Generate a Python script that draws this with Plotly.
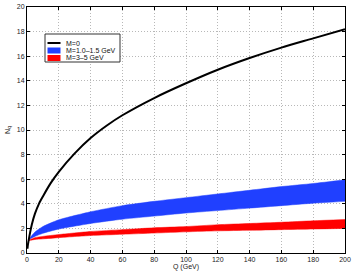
import plotly.graph_objects as go

# Data
q_black = [0.3, 0.6, 1, 2, 3, 5, 7.5, 10, 15, 20, 30, 40, 50, 60, 80, 100, 120, 140, 160, 180, 200]
n_black = [0.35, 0.7, 1.0, 1.7, 2.3, 3.2, 4.0, 4.6, 5.7, 6.6, 8.1, 9.35, 10.35, 11.2, 12.6, 13.8, 14.9, 15.85, 16.7, 17.45, 18.2]

q_band = [1, 2, 5, 10, 20, 40, 60, 80, 100, 120, 140, 160, 180, 200]
blue_hi = [1.0, 1.25, 1.7, 2.15, 2.7, 3.35, 3.85, 4.2, 4.5, 4.8, 5.1, 5.4, 5.65, 5.95]
blue_lo = [1.0, 1.15, 1.35, 1.6, 1.95, 2.4, 2.75, 3.0, 3.25, 3.45, 3.65, 3.85, 4.05, 4.2]
red_hi = [1.0, 1.1, 1.25, 1.35, 1.5, 1.75, 1.9, 2.05, 2.15, 2.3, 2.4, 2.5, 2.62, 2.72]
red_lo = [1.0, 1.03, 1.1, 1.15, 1.25, 1.42, 1.52, 1.62, 1.72, 1.8, 1.85, 1.9, 1.95, 2.0]

names = ["M=0", "M=1.0\u20131.5 GeV", "M=3\u20135 GeV"]
colors = ["black", "#2040ff", "#ff0000"]

W, H = 354, 273
L, R, T, B = 27, 9, 7, 20
PW, PH = W - L - R, H - T - B


def px_x(px):
    return (px - L) / PW


def px_y(py):
    return (H - B - py) / PH


fig = go.Figure()
for lo, hi, c, nm in [(blue_lo, blue_hi, colors[1], names[1]), (red_lo, red_hi, colors[2], names[2])]:
    fig.add_trace(go.Scatter(x=q_band, y=lo, mode="lines", name=nm,
                             line=dict(color=c, width=0.5, shape="spline", smoothing=0.6)))
    fig.add_trace(go.Scatter(x=q_band, y=hi, mode="lines", name=nm, fill="tonexty", fillcolor=c,
                             line=dict(color=c, width=0.5, shape="spline", smoothing=0.6)))
fig.add_trace(go.Scatter(x=q_black, y=n_black, mode="lines", name=names[0],
                         line=dict(color=colors[0], width=2, shape="spline", smoothing=0.8)))

axis_common = dict(showline=True, linecolor="black", linewidth=1, mirror="ticks",
                   ticks="inside", ticklen=3, tickcolor="black",
                   showgrid=True, gridcolor="#b8b8b8", griddash="1px,2px", gridwidth=1,
                   zeroline=False, tickfont=dict(size=7, color="#222"), automargin=False)

# manual compact legend
shapes = [dict(type="rect", xref="paper", yref="paper",
               x0=px_x(45), x1=px_x(120), y0=px_y(62), y1=px_y(34),
               line=dict(color="#333", width=1), fillcolor="white", layer="above")]
annotations = []
rows = [43, 50.5, 58]
for i, (nm, c) in enumerate(zip(names, colors)):
    yc = rows[i]
    if i == 0:
        shapes.append(dict(type="line", xref="paper", yref="paper",
                           x0=px_x(47.5), x1=px_x(60.5), y0=px_y(yc), y1=px_y(yc),
                           line=dict(color=c, width=2), layer="above"))
    else:
        shapes.append(dict(type="rect", xref="paper", yref="paper",
                           x0=px_x(47.5), x1=px_x(60.5), y0=px_y(yc + 3), y1=px_y(yc - 3),
                           line=dict(width=0), fillcolor=c, layer="above"))
    annotations.append(dict(xref="paper", yref="paper", x=px_x(63.5), y=px_y(yc),
                            xanchor="left", yanchor="middle", text=nm, showarrow=False,
                            font=dict(size=7, color="#111")))

fig.update_layout(
    width=W, height=H,
    margin=dict(l=L, r=R, t=T, b=B),
    paper_bgcolor="white", plot_bgcolor="white",
    font=dict(family="Liberation Sans, Arial, sans-serif", size=7, color="#222"),
    xaxis=dict(range=[0, 200], dtick=20, title=dict(text="Q (GeV)", standoff=1, font=dict(size=7)),
               **axis_common),
    yaxis=dict(range=[0, 20], dtick=2, title=dict(text="N<sub>q</sub>", standoff=5, font=dict(size=7)),
               **axis_common),
    showlegend=False,
    hovermode=False,
    shapes=shapes,
    annotations=annotations,
)

fig.write_html("out.html", config={"displayModeBar": False},
               post_script="document.body.style.margin='0';")
